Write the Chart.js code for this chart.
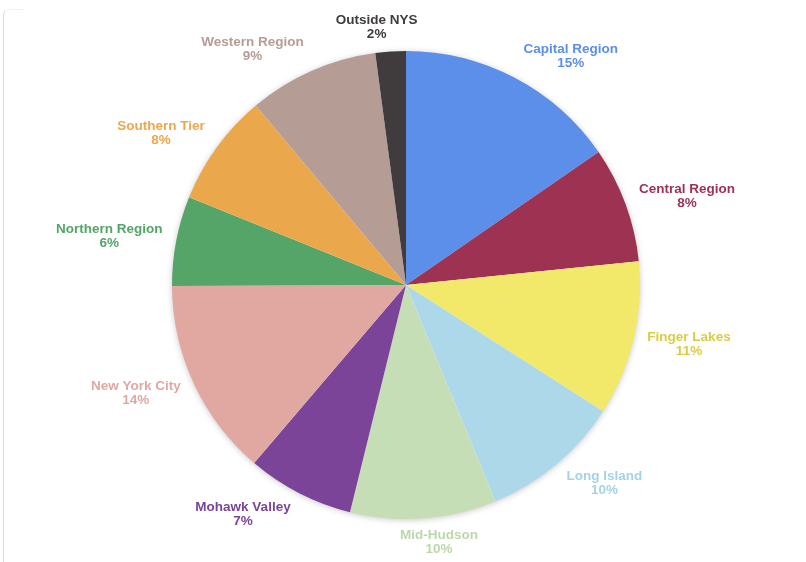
<!DOCTYPE html>
<html>
<head>
<meta charset="utf-8">
<script src="https://cdn.jsdelivr.net/npm/chart.js@4"></script>
<style>
  html, body { margin: 0; padding: 0; background: #fff; }
  #wrap { position: relative; width: 806px; height: 562px; overflow: hidden; }
  #edge {
    position: absolute; left: 3px; top: 9px; width: 20px; height: 600px;
    border-left: 1px solid #dcdcdc; border-top: 1px solid #f2f2f2;
    border-top-left-radius: 6px;
  }
  canvas { position: absolute; left: 0; top: 0; }
</style>
</head>
<body>
<div id="wrap">
  <div id="edge"></div>
  <canvas id="pieChart" width="806" height="562"></canvas>
</div>
<script>
// regions, read clockwise from 12 o'clock
const regions = ['Capital Region', 'Central Region', 'Finger Lakes', 'Long Island', 'Mid-Hudson',
  'Mohawk Valley', 'New York City', 'Northern Region', 'Southern Tier', 'Western Region', 'Outside NYS'];
const shares = [15.4, 8.0, 10.7, 9.7, 10.1, 7.4, 13.7, 6.2, 7.8, 9.0, 2.1];
const sliceColors = ['#5b8fea', '#9e3252', '#f2e96a', '#acd8e9', '#c6deb6',
  '#7b4499', '#e1a8a2', '#55a468', '#eba74b', '#b59d95', '#403b3c'];
const labelColors = ['#5b8fea', '#9e3252', '#d9cc45', '#a3d3e6', '#bcd8aa',
  '#7b4499', '#e1a8a2', '#55a468', '#eba74b', '#b59d95', '#403b3c'];

// soft shadow under the whole pie
const pieShadow = {
  id: 'pieShadow',
  beforeDatasetsDraw(chart) {
    const arc = chart.getDatasetMeta(0).data[0];
    if (!arc) return;
    const ctx = chart.ctx;
    ctx.save();
    ctx.shadowColor = 'rgba(0,0,0,0.28)';
    ctx.shadowBlur = 7;
    ctx.shadowOffsetY = 1;
    ctx.fillStyle = '#fff';
    ctx.beginPath();
    ctx.arc(arc.x, arc.y, arc.outerRadius - 1, 0, Math.PI * 2);
    ctx.fill();
    ctx.restore();
  }
};

// name + percent outside each slice
const outsideLabels = {
  id: 'outsideLabels',
  afterDatasetsDraw(chart) {
    const ctx = chart.ctx;
    const total = shares.reduce((a, b) => a + b, 0);
    ctx.save();
    ctx.font = 'bold 13.5px "Liberation Sans", Arial, sans-serif';
    ctx.textAlign = 'center';
    ctx.textBaseline = 'middle';
    chart.getDatasetMeta(0).data.forEach((arc, i) => {
      const mid = (arc.startAngle + arc.endAngle) / 2;
      const s = Math.cos(mid);   // horizontal component
      const c = Math.sin(mid);   // vertical component (down positive)
      const r = arc.outerRadius + 10;
      const ax = arc.x + r * s;
      const ay = arc.y + r * c;
      const pct = Math.round(shares[i] / total * 100) + '%';
      const w = Math.max(ctx.measureText(regions[i]).width, ctx.measureText(pct).width);
      const h = 28;
      const k = Math.sign(s) * Math.min(1, Math.abs(s) * 4.5);
      const cx = ax + k * (w / 2 + 4);
      const cy = ay + c * h / 2;
      ctx.fillStyle = labelColors[i];
      ctx.fillText(regions[i], cx, cy - 7);
      ctx.fillText(pct, cx, cy + 7);
    });
    ctx.restore();
  }
};

new Chart(document.getElementById('pieChart'), {
  type: 'pie',
  data: {
    labels: regions,
    datasets: [{
      data: shares,
      backgroundColor: sliceColors,
      borderWidth: 0
    }]
  },
  options: {
    responsive: false,
    animation: false,
    layout: { padding: { top: 51, bottom: 43, left: 172, right: 166 } },
    plugins: {
      legend: { display: false },
      tooltip: { enabled: false }
    }
  },
  plugins: [pieShadow, outsideLabels]
});
</script>
</body>
</html>
